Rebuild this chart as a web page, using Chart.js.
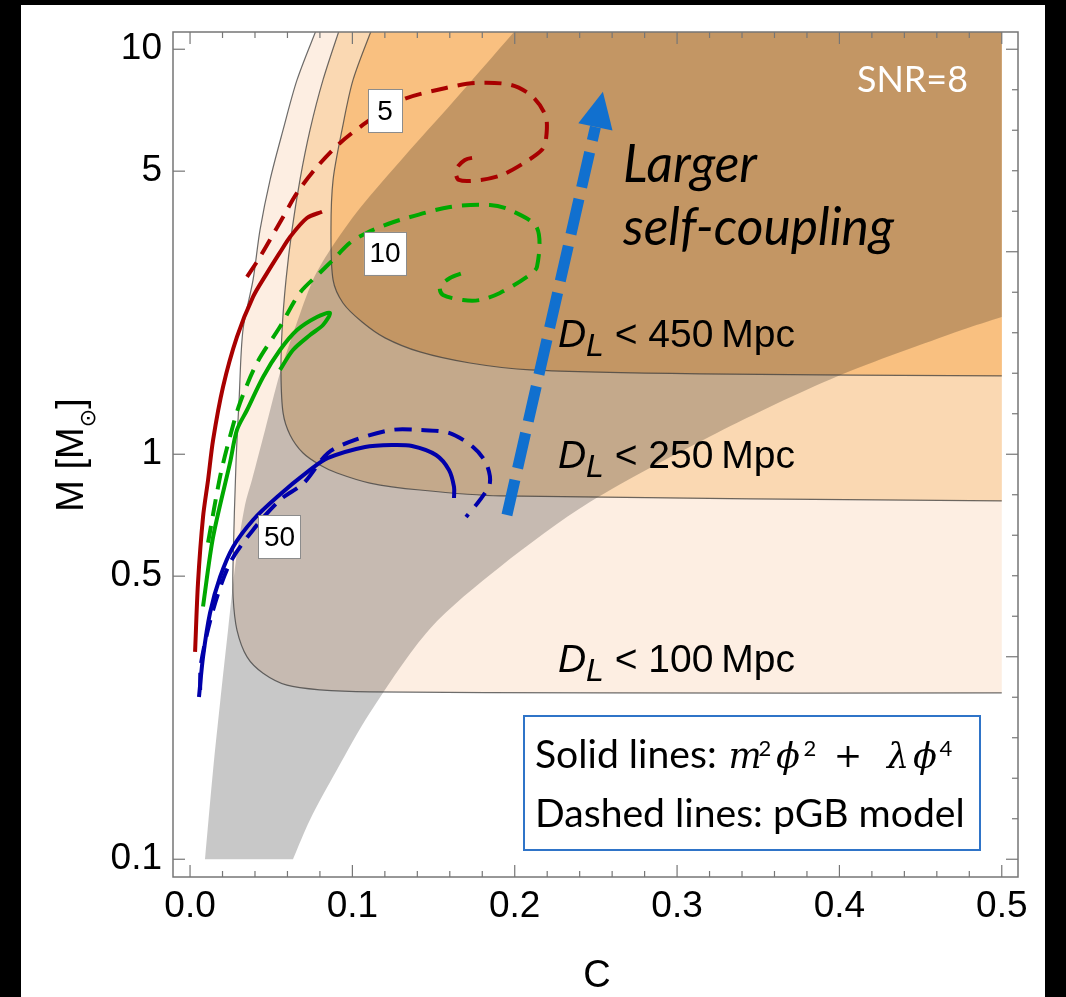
<!DOCTYPE html>
<html>
<head>
<meta charset="utf-8">
<script src="https://cdn.jsdelivr.net/npm/chart.js@4.4.1/dist/chart.umd.min.js"></script>
<style>
html, body { margin: 0; padding: 0; background: #000; }
canvas { display: block; }
</style>
</head>
<body>
<canvas id="snr-chart" width="1066" height="997"></canvas>
<script>
// axis ranges and ticks
const C_MIN = -0.0105, C_MAX = 0.51;
const M_MIN = 0.0904, M_MAX = 11.03;
const M_ABOVE = 11.5; // just over the top frame, used to close the shaded areas
const C_TICKS = [0, 0.1, 0.2, 0.3, 0.4, 0.5];
const M_TICKS = [0.1, 0.5, 1, 5, 10];
const M_TICK_LABELS = ['0.1', '0.5', '1', '5', '10'];

// D_L detection regions: boundary from the top edge, round the corner, out to C = 0.5
const DL100_C = [0.0790, 0.0659, 0.0573, 0.0493, 0.0431, 0.0388, 0.0326, 0.0302, 0.0283, 0.0265, 0.0265, 0.0289, 0.0351, 0.0450, 0.0597, 0.0800, 0.1108, 0.2525, 0.5];
const DL100_M = [M_ABOVE, 8.40, 6.32, 4.76, 3.58, 2.694, 2.03, 1.36, 0.952, 0.539, 0.444, 0.368, 0.316, 0.288, 0.269, 0.262, 0.259, 0.2574, 0.2574];

const DL250_C = [0.0930, 0.0819, 0.0739, 0.0677, 0.0628, 0.0591, 0.0567, 0.0560, 0.0573, 0.0616, 0.0696, 0.0800, 0.0905, 0.1108, 0.1416, 0.1909, 0.5];
const DL250_M = [M_ABOVE, 8.40, 6.32, 4.76, 3.58, 2.694, 2.03, 1.587, 1.265, 1.116, 1.007, 0.941, 0.899, 0.849, 0.816, 0.789, 0.767];

const DL450_C = [0.1130, 0.1004, 0.0936, 0.0881, 0.0868, 0.0881, 0.0942, 0.1060, 0.1201, 0.1416, 0.1724, 0.2094, 0.3140, 0.5];
const DL450_M = [M_ABOVE, 8.40, 6.32, 4.76, 3.58, 2.694, 2.363, 2.121, 1.938, 1.789, 1.680, 1.615, 1.579, 1.561];

// grey band (left edge bottom->top, right edge top->bottom)
const GRAY_LEFT_C = [0.0092, 0.0142, 0.0185, 0.0234, 0.0283, 0.0339, 0.0382, 0.0462, 0.0554, 0.0653, 0.0757, 0.0862, 0.1047, 0.1318, 0.1619, 0.2035];
const GRAY_LEFT_M = [0.1, 0.1663, 0.2434, 0.368, 0.548, 0.751, 0.866, 1.148, 1.587, 2.085, 2.694, 3.195, 4.056, 5.43, 7.41, M_ABOVE];
const GRAY_RIGHT_C = [0.5, 0.4754, 0.3978, 0.3245, 0.2463, 0.1909, 0.1478, 0.1108, 0.0905, 0.0739, 0.0634];
const GRAY_RIGHT_M = [2.183, 2.027, 1.552, 1.129, 0.762, 0.527, 0.371, 0.230, 0.1663, 0.1252, 0.1];

// SNR contours, solid: m^2 phi^2 + lambda phi^4, dashed: pGB model
const RED_SOLID_C = [0.0031, 0.0049, 0.0080, 0.0111, 0.0142, 0.0203, 0.0289, 0.0388, 0.0474, 0.0554, 0.0616, 0.0720, 0.0813];
const RED_SOLID_M = [0.325, 0.481, 0.700, 0.864, 1.085, 1.466, 1.949, 2.446, 2.80, 3.15, 3.44, 3.83, 3.97];
const RED_DASHED_C = [0.0351, 0.0431, 0.0573, 0.0659, 0.0782, 0.0924, 0.1090, 0.1305, 0.1576, 0.1761, 0.1977, 0.2112, 0.2192, 0.2192, 0.2167, 0.2057, 0.1921, 0.1792, 0.1656, 0.1638, 0.1693, 0.1773];
const RED_DASHED_M = [2.741, 3.071, 3.854, 4.418, 5.122, 5.870, 6.614, 7.497, 8.025, 8.256, 8.164, 7.625, 6.804, 5.970, 5.641, 5.240, 4.893, 4.756, 4.756, 5.035, 5.330, 5.421];

const GREEN_SOLID_C = [0.0080, 0.0142, 0.0246, 0.0289, 0.0351, 0.0450, 0.0554, 0.0659, 0.0782, 0.0862, 0.0819, 0.0739, 0.0634, 0.0554];
const GREEN_SOLID_M = [0.421, 0.625, 0.952, 1.148, 1.286, 1.552, 1.809, 2.027, 2.183, 2.233, 2.085, 1.970, 1.809, 1.615];
const GREEN_DASHED_C = [0.0111, 0.0185, 0.0246, 0.0308, 0.0413, 0.0554, 0.0677, 0.0800, 0.0881, 0.0985, 0.1090, 0.1188, 0.1293, 0.1601, 0.1847, 0.1970, 0.2137, 0.2137, 0.2075, 0.1909, 0.1786, 0.1681, 0.1558, 0.1539, 0.1601, 0.1681];
const GREEN_DASHED_M = [0.605, 0.880, 1.105, 1.340, 1.682, 2.064, 2.505, 2.806, 3.021, 3.328, 3.523, 3.662, 3.789, 4.079, 4.126, 4.011, 3.622, 2.901, 2.741, 2.502, 2.404, 2.404, 2.474, 2.588, 2.724, 2.803];

const BLUE_SOLID_C = [0.0055, 0.0080, 0.0123, 0.0185, 0.0265, 0.0388, 0.0536, 0.0739, 0.0850, 0.1078, 0.1244, 0.1367, 0.1515, 0.1595, 0.1626, 0.1626];
const BLUE_SOLID_M = [0.2516, 0.3159, 0.4056, 0.4977, 0.5904, 0.6882, 0.7845, 0.9146, 0.9792, 1.0424, 1.0543, 1.0483, 0.996, 0.9146, 0.8304, 0.7800];
const BLUE_DASHED_C = [0.0062, 0.0068, 0.0142, 0.0246, 0.0388, 0.0554, 0.0702, 0.0850, 0.1016, 0.1244, 0.1410, 0.1595, 0.1743, 0.1823, 0.1847, 0.1786, 0.1700];
const BLUE_DASHED_M = [0.2618, 0.3052, 0.4126, 0.5390, 0.6504, 0.7712, 0.8497, 1.0074, 1.0847, 1.1482, 1.1482, 1.1287, 1.0424, 0.9517, 0.8494, 0.7712, 0.7003];

// "larger self-coupling" arrow: start, head base, tip
const ARROW_C = [0.1952, 0.2497, 0.2543];
const ARROW_M = [0.708, 6.43, 7.85];

// contour labels and region labels
const LABEL_TEXT = ['5', '10', '50'];
const LABEL_C = [0.1201, 0.1201, 0.0551];
const LABEL_M = [7.04, 3.132, 0.625];
const DL_TEXT = ['450', '250', '100'];
const DL_TEXT_C = 0.2266;
const DL_TEXT_M = [1.84, 0.925, 0.290];

const FONT_SANS = "'Liberation Sans', Arial, sans-serif";
const FONT_HUMAN = "Lato, 'Open Sans', sans-serif";
const FONT_MATH = "'DejaVu Serif', 'Liberation Serif', serif";


function pts(cs, ms){
    return cs.map((c, i) => ({x: c, y: ms[i]}));
}

// boundary + closing corners (doubled so the spline keeps them sharp)
function regionPoints(cs, ms){
    let p = pts(cs, ms);
    let last = p[p.length - 1];
    return p.concat([{x: last.x, y: last.y}, {x: last.x, y: M_ABOVE}, {x: last.x, y: M_ABOVE}]);
}

function grayPoints(){
    let left = pts(GRAY_LEFT_C, GRAY_LEFT_M);
    let right = pts(GRAY_RIGHT_C, GRAY_RIGHT_M);
    let top = left[left.length - 1];
    return left.concat([{x: top.x, y: top.y}, {x: 0.5, y: M_ABOVE}, {x: 0.5, y: M_ABOVE}, {x: right[0].x, y: right[0].y}], right);
}

function fillSet(data, color, order){
    return {data: data, showLine: true, fill: 'shape', backgroundColor: color, borderColor: 'transparent',
        borderWidth: 0, pointRadius: 0, tension: 0.3, order: order};
}

function edgeSet(cs, ms){
    return {data: pts(cs, ms), showLine: true, fill: false, borderColor: 'rgba(60,60,60,0.75)',
        borderWidth: 1.2, pointRadius: 0, tension: 0.3, order: 6};
}

function curveSet(cs, ms, color, dashed){
    return {data: pts(cs, ms), showLine: true, fill: false, borderColor: color, borderWidth: 4,
        borderDash: dashed ? [17, 10] : [], pointRadius: 0, tension: 0.3, order: 2};
}

function fitSize(ctx, text, style, family, width){
    ctx.font = style + ' 100px ' + family;
    return 100 * width / ctx.measureText(text).width;
}

function tick(ctx, x1, y1, x2, y2){
    ctx.beginPath();
    ctx.moveTo(x1, y1);
    ctx.lineTo(x2, y2);
    ctx.stroke();
}

// draw glyph centred on a given x
function glyphAt(ctx, t, cx, y){
    ctx.fillText(t, cx - ctx.measureText(t).width / 2, y);
}

const decor = {
    id: 'decor',
    beforeDraw(chart){
        let ctx = chart.ctx;
        ctx.save();
        ctx.fillStyle = '#000';
        ctx.fillRect(0, 0, chart.width, chart.height);
        ctx.fillStyle = '#fff';
        ctx.fillRect(21, 5, 1024, 992);
        ctx.restore();
    },
    afterDatasetsDraw(chart){
        let ctx = chart.ctx;
        let xs = chart.scales.x, ys = chart.scales.y;
        ctx.save();

        // arrow head
        let bx = xs.getPixelForValue(ARROW_C[1]), by = ys.getPixelForValue(ARROW_M[1]);
        let tx = xs.getPixelForValue(ARROW_C[2]), ty = ys.getPixelForValue(ARROW_M[2]);
        let ang = Math.atan2(ty - by, tx - bx);
        let hw = 17.5;
        ctx.fillStyle = '#1170CF';
        ctx.beginPath();
        ctx.moveTo(tx, ty);
        ctx.lineTo(bx - hw * Math.sin(ang), by + hw * Math.cos(ang));
        ctx.lineTo(bx + hw * Math.sin(ang), by - hw * Math.cos(ang));
        ctx.closePath();
        ctx.fill();

        // contour label boxes
        ctx.font = '28px ' + FONT_SANS;
        ctx.textAlign = 'center';
        ctx.textBaseline = 'middle';
        LABEL_TEXT.forEach((t, i) => {
            let cx = xs.getPixelForValue(LABEL_C[i]);
            let cy = ys.getPixelForValue(LABEL_M[i]);
            let w = Math.max(34, ctx.measureText(t).width + 11), h = 43;
            ctx.fillStyle = '#fff';
            ctx.fillRect(cx - w / 2, cy - h / 2, w, h);
            ctx.strokeStyle = '#8c8c8c';
            ctx.lineWidth = 1;
            ctx.strokeRect(Math.round(cx - w / 2) + 0.5, Math.round(cy - h / 2) + 0.5, Math.round(w), h);
            ctx.fillStyle = '#000';
            ctx.fillText(t, cx, cy + 1);
        });

        // D_L labels
        ctx.textAlign = 'left';
        ctx.textBaseline = 'alphabetic';
        ctx.fillStyle = '#000';
        DL_TEXT.forEach((t, i) => {
            let x = xs.getPixelForValue(DL_TEXT_C);
            let y = ys.getPixelForValue(DL_TEXT_M[i]);
            ctx.font = 'italic 39px ' + FONT_SANS;
            ctx.fillText('D', x, y);
            x += ctx.measureText('D').width;
            ctx.font = 'italic 32px ' + FONT_SANS;
            ctx.fillText('L', x, y + 9);
            x += ctx.measureText('L').width;
            ctx.font = '39px ' + FONT_SANS;
            ctx.fillText(' < ' + t + '\u2009Mpc', x, y);
        });

        // SNR=8
        let s = fitSize(ctx, 'SNR=8', '', FONT_HUMAN, 111);
        ctx.font = s + 'px ' + FONT_HUMAN;
        ctx.fillStyle = '#fff';
        ctx.fillText('SNR=8', 857, 92);

        // Larger self-coupling
        s = fitSize(ctx, 'self-coupling', 'italic', FONT_HUMAN, 271);
        ctx.font = 'italic ' + s + 'px ' + FONT_HUMAN;
        ctx.fillStyle = '#000';
        ctx.fillText('Larger', 623, 182);
        ctx.fillText('self-coupling', 623, 245);

        // legend box
        ctx.fillStyle = '#fff';
        ctx.fillRect(524, 716, 456, 134);
        ctx.strokeStyle = '#2F74C8';
        ctx.lineWidth = 2;
        ctx.strokeRect(524, 716, 456, 134);
        s = fitSize(ctx, 'Dashed lines: pGB model', '', FONT_HUMAN, 430);
        ctx.font = s + 'px ' + FONT_HUMAN;
        ctx.fillStyle = '#000';
        ctx.fillText('Solid lines:', 535, 768);
        ctx.fillText('Dashed lines: pGB model', 535, 827);
        // m^2 phi^2 + lambda phi^4, glyph centres taken from the figure
        let yb = 768;
        ctx.font = 'italic 35px ' + FONT_MATH;
        glyphAt(ctx, 'm', 745, yb);
        glyphAt(ctx, '\u03D5', 788, yb);
        glyphAt(ctx, '\u03BB', 898, yb);
        glyphAt(ctx, '\u03D5', 925, yb);
        ctx.font = '34px ' + FONT_MATH;
        glyphAt(ctx, '+', 848, yb - 1);
        ctx.font = '22px ' + FONT_HUMAN;
        glyphAt(ctx, '2', 765, yb - 12);
        glyphAt(ctx, '2', 810, yb - 12);
        glyphAt(ctx, '4', 946, yb - 12);

        ctx.restore();
    },
    afterDraw(chart){
        let ctx = chart.ctx;
        let xs = chart.scales.x, ys = chart.scales.y;
        let a = chart.chartArea;
        ctx.save();
        ctx.strokeStyle = '#767676';
        ctx.lineWidth = 1.5;
        ctx.strokeRect(a.left, a.top, a.right - a.left, a.bottom - a.top);
        ctx.lineWidth = 1.2;

        // bottom / top ticks every 0.02
        for (let k = 0; k <= 25; k++){
            let px = xs.getPixelForValue(k * 0.02);
            let len = (k % 5 === 0) ? 12 : 6;
            tick(ctx, px, a.bottom, px, a.bottom - len);
            tick(ctx, px, a.top, px, a.top + len);
        }
        // left ticks
        M_TICKS.forEach(v => {
            let py = ys.getPixelForValue(v);
            tick(ctx, a.left, py, a.left + 12, py);
        });
        // right ticks every 0.1 decade
        for (let k = -10; k <= 10; k++){
            let py = ys.getPixelForValue(Math.pow(10, k / 10));
            let len = (k % 5 === 0) ? 12 : 6;
            tick(ctx, a.right, py, a.right - len, py);
        }

        // axis titles
        ctx.fillStyle = '#000';
        ctx.textBaseline = 'alphabetic';
        ctx.textAlign = 'center';
        ctx.font = '38px ' + FONT_SANS;
        ctx.fillText('C', 597, 987);

        ctx.translate(83, 455);
        ctx.rotate(-Math.PI / 2);
        ctx.textAlign = 'left';
        ctx.font = '38px ' + FONT_SANS;
        let w1 = ctx.measureText('M [M').width;
        let w3 = ctx.measureText(']').width;
        ctx.font = "22px 'DejaVu Sans', sans-serif";
        let w2 = ctx.measureText('\u2299').width;
        let x = -(w1 + w2 + w3) / 2;
        ctx.font = '38px ' + FONT_SANS;
        ctx.fillText('M [M', x, 0);
        ctx.font = "22px 'DejaVu Sans', sans-serif";
        ctx.fillText('\u2299', x + w1, 12);
        ctx.font = '38px ' + FONT_SANS;
        ctx.fillText(']', x + w1 + w2, 0);
        ctx.restore();
    }
};


function initChart(){
    let ctx = document.getElementById('snr-chart').getContext('2d');

    let datasets = [
        fillSet(regionPoints(DL100_C, DL100_M), '#FDEEE2', 10),
        fillSet(regionPoints(DL250_C, DL250_M), '#FAD8B2', 9),
        fillSet(regionPoints(DL450_C, DL450_M), '#F9C080', 8),
        fillSet(grayPoints(), 'rgba(0,0,0,0.215)', 7),
        edgeSet(DL100_C, DL100_M),
        edgeSet(DL250_C, DL250_M),
        edgeSet(DL450_C, DL450_M),
        curveSet(RED_SOLID_C, RED_SOLID_M, '#A80000', false),
        curveSet(RED_DASHED_C, RED_DASHED_M, '#A80000', true),
        curveSet(GREEN_SOLID_C, GREEN_SOLID_M, '#00A800', false),
        curveSet(GREEN_DASHED_C, GREEN_DASHED_M, '#00A800', true),
        curveSet(BLUE_SOLID_C, BLUE_SOLID_M, '#0000AA', false),
        curveSet(BLUE_DASHED_C, BLUE_DASHED_M, '#0000AA', true),
        {
            data: pts(ARROW_C.slice(0, 2), ARROW_M.slice(0, 2)),
            showLine: true, fill: false, borderColor: '#1170CF', borderWidth: 11,
            borderDash: [36, 12], pointRadius: 0, tension: 0, order: 1
        }
    ];

    new Chart(ctx, {
        type: 'scatter',
        data: {datasets: datasets},
        options: {
            responsive: false,
            animation: false,
            devicePixelRatio: 1,
            events: [],
            layout: {padding: {top: 32, right: 48, bottom: 0, left: 0}},
            plugins: {legend: {display: false}, tooltip: {enabled: false}},
            scales: {
                x: {
                    type: 'linear', min: C_MIN, max: C_MAX,
                    grid: {display: false, drawTicks: false},
                    border: {display: false},
                    afterBuildTicks: (s) => { s.ticks = C_TICKS.map(v => ({value: v})); },
                    afterFit: (s) => { s.height = 120; s.paddingLeft = 0; s.paddingRight = 0; },
                    ticks: {
                        color: '#000', padding: 8, autoSkip: false, maxRotation: 0,
                        font: {family: FONT_SANS, size: 37},
                        callback: (v) => Number(v).toFixed(1)
                    }
                },
                y: {
                    type: 'logarithmic', min: M_MIN, max: M_MAX,
                    grid: {display: false, drawTicks: false},
                    border: {display: false},
                    afterBuildTicks: (s) => { s.ticks = M_TICKS.map(v => ({value: v})); },
                    afterFit: (s) => { s.width = 173; s.paddingTop = 0; s.paddingBottom = 0; },
                    ticks: {
                        color: '#000', padding: 11, autoSkip: false,
                        font: {family: FONT_SANS, size: 37},
                        callback: (v, i) => M_TICK_LABELS[i]
                    }
                }
            }
        },
        plugins: [decor]
    });
}

initChart();
</script>
</body>
</html>
